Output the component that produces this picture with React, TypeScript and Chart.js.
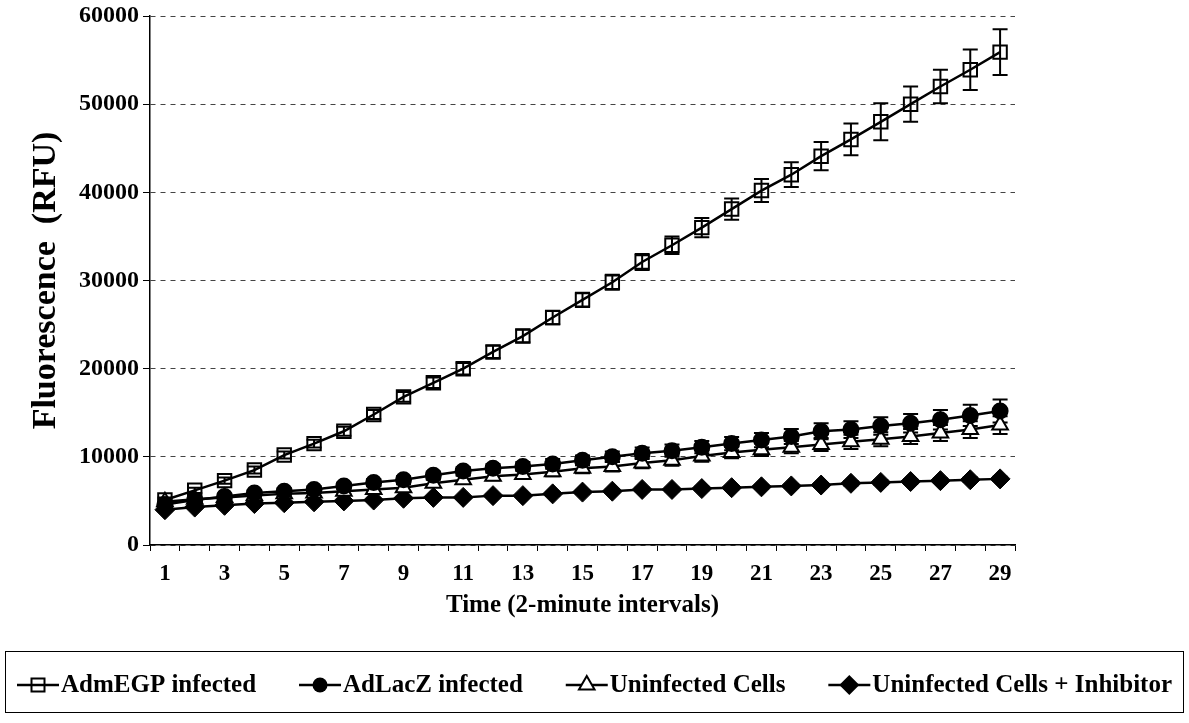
import React, { useEffect, useRef } from 'react';
import { Chart, registerables } from 'chart.js';

Chart.register(...registerables);

const categories = ['1','2','3','4','5','6','7','8','9','10','11','12','13','14','15','16','17','18','19','20','21','22','23','24','25','26','27','28','29'];
const shownTickLabels = ['1','','3','','5','','7','','9','','11','','13','','15','','17','','19','','21','','23','','25','','27','','29'];
const yTicks = [0, 10000, 20000, 30000, 40000, 50000, 60000];

const seriesNames = ['AdmEGP infected', 'AdLacZ infected', 'Uninfected Cells', 'Uninfected Cells + Inhibitor'];

const admEGP = [5100, 6200, 7300, 8500, 10200, 11500, 12900, 14800, 16800, 18400, 20000, 21900, 23700, 25800, 27800, 29800, 32100, 34000, 36000, 38100, 40200, 42000, 44100, 46000, 48000, 50000, 52000, 53900, 55900];
const admEGPErr = [300, 300, 350, 400, 400, 450, 500, 500, 550, 600, 650, 700, 700, 750, 800, 850, 900, 1000, 1100, 1200, 1300, 1400, 1600, 1800, 2100, 2000, 1900, 2300, 2600];

const adLacZ = [4600, 5100, 5500, 5900, 6100, 6300, 6700, 7100, 7400, 7900, 8400, 8700, 8900, 9200, 9600, 10000, 10400, 10700, 11100, 11500, 11900, 12300, 12900, 13100, 13500, 13800, 14200, 14700, 15200];
const adLacZErr = [300, 300, 300, 300, 350, 350, 400, 400, 400, 450, 450, 500, 500, 550, 550, 600, 650, 700, 700, 750, 800, 850, 900, 950, 1000, 1050, 1100, 1200, 1300];

const uninfected = [4900, 5200, 5400, 5600, 5800, 5900, 6100, 6300, 6500, 7000, 7400, 7800, 8000, 8300, 8700, 8900, 9300, 9600, 10100, 10500, 10800, 11100, 11400, 11700, 12000, 12300, 12700, 13100, 13600];
const uninfectedErr = [300, 300, 300, 300, 300, 350, 350, 350, 400, 400, 450, 450, 500, 500, 550, 550, 600, 600, 650, 650, 700, 700, 750, 800, 800, 850, 900, 950, 1000];

const inhibitor = [4000, 4300, 4500, 4700, 4800, 4900, 5000, 5100, 5300, 5400, 5400, 5600, 5600, 5800, 6000, 6100, 6300, 6300, 6400, 6500, 6600, 6700, 6800, 7000, 7100, 7200, 7300, 7400, 7500];
const inhibitorErr = [150, 150, 150, 150, 150, 150, 150, 150, 150, 150, 150, 150, 150, 200, 200, 200, 200, 200, 200, 200, 200, 200, 200, 250, 250, 250, 250, 250, 250];

const FONT = "'Liberation Serif', 'Times New Roman', serif";

type MarkerKind = 'square' | 'circle' | 'triangle' | 'diamond';
const markerKinds: MarkerKind[] = ['square', 'circle', 'triangle', 'diamond'];

function drawMarker(ctx: CanvasRenderingContext2D, kind: MarkerKind, x: number, y: number) {
  ctx.save();
  ctx.strokeStyle = '#000';
  ctx.fillStyle = '#000';
  ctx.lineWidth = 2;
  ctx.beginPath();
  if (kind === 'square') {
    ctx.rect(x - 6.5, y - 6.5, 13, 13);
    ctx.stroke();
  } else if (kind === 'circle') {
    ctx.arc(x, y, 7.5, 0, Math.PI * 2);
    ctx.fill();
  } else if (kind === 'triangle') {
    const r = 9;
    ctx.moveTo(x, y - r);
    ctx.lineTo(x + r * Math.sin((2 * Math.PI) / 3), y - r * Math.cos((2 * Math.PI) / 3));
    ctx.lineTo(x - r * Math.sin((2 * Math.PI) / 3), y - r * Math.cos((2 * Math.PI) / 3));
    ctx.closePath();
    ctx.fillStyle = '#fff';
    ctx.fill();
    ctx.stroke();
  } else {
    const r = 10;
    ctx.moveTo(x, y - r);
    ctx.lineTo(x + r, y);
    ctx.lineTo(x, y + r);
    ctx.lineTo(x - r, y);
    ctx.closePath();
    ctx.fill();
  }
  ctx.restore();
}

const errorBarPlugin = {
  id: 'errorBars',
  beforeDatasetsDraw(chart: any) {
    const ctx: CanvasRenderingContext2D = chart.ctx;
    const yScale = chart.scales.y;
    ctx.save();
    ctx.strokeStyle = '#000';
    ctx.lineWidth = 2;
    chart.data.datasets.forEach((ds: any, di: number) => {
      const meta = chart.getDatasetMeta(di);
      const errs: number[] = ds.errors || [];
      meta.data.forEach((pt: any, i: number) => {
        const v = ds.data[i];
        const e = errs[i] || 0;
        const yt = yScale.getPixelForValue(v + e);
        const yb = yScale.getPixelForValue(v - e);
        const x = pt.x;
        ctx.beginPath();
        ctx.moveTo(x, yt);
        ctx.lineTo(x, yb);
        ctx.moveTo(x - 7.5, yt);
        ctx.lineTo(x + 7.5, yt);
        ctx.moveTo(x - 7.5, yb);
        ctx.lineTo(x + 7.5, yb);
        ctx.stroke();
      });
    });
    ctx.restore();
  },
};

const boxLegendPlugin = {
  id: 'boxLegend',
  afterDraw(chart: any) {
    const ctx: CanvasRenderingContext2D = chart.ctx;
    ctx.save();
    ctx.strokeStyle = '#000';
    ctx.lineWidth = 1;
    ctx.strokeRect(5.5, 651.5, 1178, 61);
    const y = 685;
    const lineLen = 42;
    const textGap = 2;
    ctx.font = `bold 25px ${FONT}`;
    const widths = seriesNames.map((n) => ctx.measureText(n).width);
    const startX = 17;
    const endX = 1172;
    const used = widths.reduce((a, w) => a + lineLen + textGap + w, 0);
    const gap = (endX - startX - used) / (seriesNames.length - 1);
    let x = startX;
    seriesNames.forEach((name, i) => {
      ctx.beginPath();
      ctx.strokeStyle = '#000';
      ctx.lineWidth = 2.5;
      ctx.moveTo(x, y);
      ctx.lineTo(x + lineLen, y);
      ctx.stroke();
      drawMarker(ctx, markerKinds[i], x + lineLen / 2, y);
      ctx.fillStyle = '#000';
      ctx.textBaseline = 'middle';
      ctx.textAlign = 'left';
      ctx.font = `bold 25px ${FONT}`;
      ctx.fillText(name, x + lineLen + textGap, y + 1);
      x += lineLen + textGap + widths[i] + gap;
    });
    ctx.restore();
  },
};

export default function App() {
  const canvasRef = useRef<HTMLCanvasElement | null>(null);

  useEffect(() => {
    if (!canvasRef.current) return;
    const common = {
      borderColor: '#000',
      borderWidth: 2.5,
      pointBorderColor: '#000',
      pointBorderWidth: 2,
      tension: 0,
      fill: false,
    };
    const chart = new Chart(canvasRef.current, {
      type: 'line',
      data: {
        labels: categories,
        datasets: [
          { ...common, label: seriesNames[0], data: admEGP, errors: admEGPErr, pointStyle: 'rect', pointRadius: 9.5, pointBackgroundColor: 'rgba(255,255,255,0)' } as any,
          { ...common, label: seriesNames[1], data: adLacZ, errors: adLacZErr, pointStyle: 'circle', pointRadius: 7.5, pointBackgroundColor: '#000' } as any,
          { ...common, label: seriesNames[2], data: uninfected, errors: uninfectedErr, pointStyle: 'triangle', pointRadius: 9, pointBackgroundColor: '#fff' } as any,
          { ...common, label: seriesNames[3], data: inhibitor, errors: inhibitorErr, pointStyle: 'rectRot', pointRadius: 10, pointBorderWidth: 1, pointBackgroundColor: '#000' } as any,
        ],
      },
      options: {
        animation: false,
        responsive: false,
        maintainAspectRatio: false,
        layout: { padding: { left: 0, top: 16, right: 174, bottom: 88 } },
        plugins: {
          legend: { display: false },
          tooltip: { enabled: false },
        },
        scales: {
          x: {
            type: 'category',
            offset: true,
            grid: { display: true, drawOnChartArea: false, drawTicks: true, tickLength: 6, offset: true, color: '#000', lineWidth: 1 },
            border: { display: true, color: '#000', width: 1.5 },
            ticks: {
              autoSkip: false,
              maxRotation: 0,
              padding: 9,
              color: '#000',
              font: { family: FONT, size: 23, weight: 'bold' },
              callback: (_v: any, idx: number) => shownTickLabels[idx],
            },
            title: {
              display: true,
              text: 'Time (2-minute intervals)',
              color: '#000',
              font: { family: FONT, size: 25, weight: 'bold' },
              padding: { top: 0, bottom: 14 },
            },
            afterFit: (scale: any) => { scale.height = 90; scale.paddingLeft = 0; scale.paddingRight = 0; },
          },
          y: {
            type: 'linear',
            min: 0,
            max: 60000,
            afterBuildTicks: (scale: any) => { scale.ticks = yTicks.map((v) => ({ value: v })); },
            grid: { display: true, color: '#444', lineWidth: 1, drawTicks: true, tickLength: 7, tickColor: '#000', tickBorderDash: [] },
            border: { display: true, color: '#000', width: 1.5, dash: [5, 5] },
            ticks: {
              padding: 4,
              color: '#000',
              font: { family: FONT, size: 24, weight: 'bold' },
              callback: (v: any) => String(v),
            },
            title: {
              display: true,
              text: 'Fluorescence  (RFU)',
              color: '#000',
              font: { family: FONT, size: 34, weight: 'bold' },
              padding: { top: 26, bottom: 0 },
            },
            afterFit: (scale: any) => { scale.width = 150; scale.paddingTop = 0; scale.paddingBottom = 0; },
          },
        },
      } as any,
      plugins: [errorBarPlugin, boxLegendPlugin],
    });
    return () => chart.destroy();
  }, []);

  return (
    <div style={{ position: 'fixed', left: 0, top: 0, width: 1189, height: 723, background: '#fff' }}>
      <canvas ref={canvasRef} width={1189} height={723} style={{ width: 1189, height: 723, display: 'block' }} />
    </div>
  );
}
